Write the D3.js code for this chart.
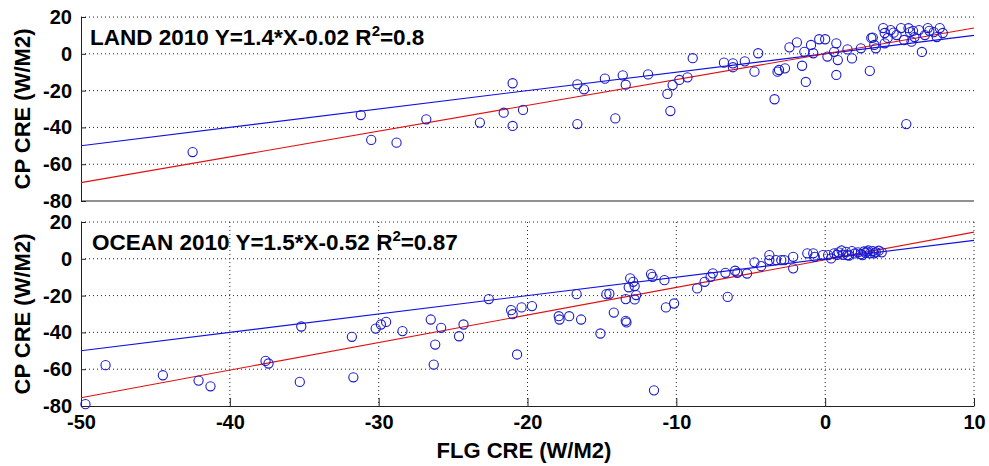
<!DOCTYPE html>
<html>
<head>
<meta charset="utf-8">
<script src="https://cdn.jsdelivr.net/npm/d3@7"></script>
<style>
  body { margin: 0; background: #fff; }
  text { font-family: "Liberation Sans", Arial, sans-serif; font-weight: bold; fill: #000; }
  .grid line { stroke: #222; stroke-dasharray: 1,3; }
  .axis path, .axis line { stroke: #222; }
  .axis text { font-size: 20px; }
</style>
</head>
<body>
<svg id="chart"></svg>
<script>
// tick values
const xTicks = [-50, -40, -30, -20, -10, 0, 10];
const yTicks = [20, 0, -20, -40, -60, -80];

// LAND 2010 points (FLG CRE, CP CRE)
const landX = [-42.5, -31.2, -30.5, -28.8, -26.8, -23.2, -21.0, -21.6, -21.0, -20.3,
  -16.65, -16.2, -16.65, -14.8, -13.6, -13.4, -14.1, -11.9, -10.6, -10.4,
  -10.25, -9.8, -9.25, -8.9, -6.8, -6.2, -6.2, -5.4, -4.75, -4.5,
  -3.4, -3.2, -3.1, -2.7, -2.4, -1.9, -1.55, -1.3, -1.4, -0.95,
  -0.8, -0.4, 0, 0.15, 0.75, 0.6, 0.75, 0.85, 1.5, 1.8,
  2.4, 3.0, 3.2, 3.3, 3.4, 3.1, 3.9, 4.0, 4.2, 4.0,
  4.4, 4.8, 5.1, 5.3, 5.7, 6.0, 6.3, 6.7, 6.9, 7.3,
  7.5, 7.7, 7.9, 6.5, 5.45, 5.6, 5.8, 7.0, 4.6, 5.9];
const landY = [-53.4, -33.3, -46.8, -48.3, -35.6, -37.4, -16.0, -32.0, -39.2, -30.5,
  -16.6, -19.3, -38.2, -13.5, -11.7, -16.8, -35.1, -11.2, -21.8, -31.1,
  -17, -14.2, -12.8, -2.4, -4.8, -5.2, -7.3, -4.1, -9.7, 0.3,
  -24.7, -9.7, -8.8, -7.9, 3.5, 6.2, -6.5, -15.3, 1.1, 4.8,
  0.3, 7.9, 7.9, -1.5, 5.7, 1.1, -11.5, -3.4, 2.4, -2.5,
  3, -9.3, 8.8, 4.8, 3, 8.6, 14, 11.3, 8.6, 5.7,
  12.9, 10.2, 14, 7.5, 11.8, 9.1, 12.9, 10.2, 14, 11.8,
  9.1, 14, 11.3, 1, -38.2, 13.9, 6.6, 12.5, 11.5, 12.5];

// OCEAN 2010 points
const oceanX = [-49.7, -48.35, -44.5, -42.1, -41.3, -37.6, -37.4, -35.2, -35.3, -31.8,
  -31.7, -30.2, -29.85, -29.5, -28.4, -26.5, -26.2, -26.3, -25.8, -24.6,
  -24.3, -22.6, -21.1, -21.0, -20.4, -20.7, -19.7, -17.9, -17.85, -17.2,
  -16.4, -16.7, -15.1, -14.7, -14.5, -14.2, -13.4, -13.35, -13.4, -13.2,
  -13.1, -12.9, -12.8, -12.8, -12.7, -11.7, -11.6, -11.5, -10.8, -10.7,
  -10.15, -8.6, -8.1, -7.7, -7.55, -6.55, -6.7, -6.05, -5.9, -5.25,
  -4.75, -4.3, -3.75, -3.75, -3.3, -2.95, -2.75, -2.15, -2.15, -1.2,
  -0.8, -0.7, -0.15, 0.2, 0.4, 0.6, 0.9, 1.1, 1.2, 1.4,
  1.6, 1.8, 2.0, 2.2, 2.4, 2.6, 2.7, 2.9, 3.0, 3.2,
  3.4, 3.6, 3.8, 1.5, 2.5, 0.8, 3.3, 2.8];
const oceanY = [-79, -57.8, -63.3, -66.2, -69.3, -55.5, -56.9, -36.8, -66.9, -42.4,
  -64.4, -37.9, -35.7, -34.3, -39.3, -33, -46.6, -57.5, -37.5, -42.1,
  -35.7, -21.9, -27.9, -30.1, -26.4, -52, -25.7, -31.2, -33, -31.2,
  -33, -19.2, -40.6, -19.2, -19.0, -29.2, -33.7, -34.6, -21.9, -15.5,
  -10.6, -12.5, -14.8, -22.1, -19.7, -8.3, -9.8, -71.5, -11.6, -26.4,
  -24.3, -16.1, -12.5, -9.8, -7.9, -20.7, -7.6, -6.5, -7.6, -8,
  -1.9, -4, 2, -0.7, -0.7, -0.7, -0.7, 1.1, -5.2, 3,
  3, 1.1, 2, 2, 0.2, 3, 3.5, 4.5, 2.2, 3.8,
  1.8, 4.2, 2.9, 3.5, 2.5, 4.0, 3.2, 4.5, 3.0, 4.2,
  3.6, 4.4, 3.5, 2.0, 2.0, 2.2, 3.0, 3.9];

// regression fits: [slope, intercept]
const landFit = [1.4, -0.02];
const oceanFit = [1.5, -0.52];

const width = 989, height = 466;
const left = 81, right = 974;

const svg = d3.select('#chart')
  .attr('width', width)
  .attr('height', height);

const x = d3.scaleLinear().domain([-50, 10]).range([left, right]);

// plain hyphen instead of d3's unicode minus
const fmt = d => String(d);

function drawPanel(cfg) {
  const y = d3.scaleLinear().domain([-80, 20]).range([cfg.bottom, cfg.top]);
  const g = svg.append('g');

  // horizontal dotted grid
  const grid = g.append('g').attr('class', 'grid');
  grid.selectAll('.hg')
    .data(yTicks.filter(d => d > -80))
    .join('line')
      .attr('x1', left).attr('x2', right)
      .attr('y1', d => y(d)).attr('y2', d => y(d));

  if (cfg.showX) {
    grid.selectAll('.vg')
      .data(xTicks.filter(d => d > -50))
      .join('line')
        .attr('x1', d => x(d)).attr('x2', d => x(d))
        .attr('y1', cfg.top).attr('y2', cfg.bottom);
  }

  // y axis
  g.append('g')
    .attr('class', 'axis')
    .attr('transform', `translate(${left},0)`)
    .call(d3.axisLeft(y).tickValues(yTicks).tickFormat(fmt)
      .tickSizeInner(-5).tickSizeOuter(0).tickPadding(9));

  // x axis
  if (cfg.showX) {
    g.append('g')
      .attr('class', 'axis')
      .attr('transform', `translate(0,${cfg.bottom})`)
      .call(d3.axisBottom(x).tickValues(xTicks).tickFormat(fmt)
        .tickSizeInner(-8).tickSizeOuter(0).tickPadding(9));
  } else {
    g.append('line')
      .attr('x1', left).attr('x2', right)
      .attr('y1', cfg.bottom).attr('y2', cfg.bottom)
      .attr('stroke', '#222');
  }

  // 1:1 line and fit line
  const xs = x.domain();
  g.append('line')
    .attr('x1', x(xs[0])).attr('y1', y(xs[0]))
    .attr('x2', x(xs[1])).attr('y2', y(xs[1]))
    .attr('stroke', '#1010e0').attr('stroke-width', 1.1);
  g.append('line')
    .attr('x1', x(xs[0])).attr('y1', y(cfg.fit[0] * xs[0] + cfg.fit[1]))
    .attr('x2', x(xs[1])).attr('y2', y(cfg.fit[0] * xs[1] + cfg.fit[1]))
    .attr('stroke', '#e01010').attr('stroke-width', 1.1);

  // points
  const pts = cfg.xs.map((v, i) => ({ x: v, y: cfg.ys[i] }));
  g.selectAll('circle')
    .data(pts)
    .join('circle')
      .attr('cx', d => x(d.x))
      .attr('cy', d => y(d.y))
      .attr('r', 4.6)
      .attr('fill', 'none')
      .attr('stroke', '#1a1ad0')
      .attr('stroke-width', 1.1);

  // title with R^2
  const t = g.append('text')
    .attr('x', cfg.titleX)
    .attr('y', cfg.top + 28)
    .style('font-size', '22.5px');
  t.append('tspan').text(cfg.label + ' R');
  t.append('tspan').attr('dy', -9).style('font-size', '15px').text('2');
  t.append('tspan').attr('dy', 9).text('=' + cfg.r2);

  // y label
  g.append('text')
    .attr('transform', `translate(30,${(cfg.top + cfg.bottom) / 2}) rotate(-90)`)
    .style('text-anchor', 'middle')
    .style('font-size', '22px')
    .text('CP CRE (W/M2)');
}

drawPanel({ top: 17, bottom: 201, xs: landX, ys: landY, fit: landFit,
  label: 'LAND 2010 Y=1.4*X-0.02', r2: '0.8', titleX: 90, showX: false });
drawPanel({ top: 222, bottom: 406, xs: oceanX, ys: oceanY, fit: oceanFit,
  label: 'OCEAN 2010 Y=1.5*X-0.52', r2: '0.87', titleX: 92, showX: true });

// x label
svg.append('text')
  .attr('x', 524)
  .attr('y', 458)
  .style('text-anchor', 'middle')
  .style('font-size', '22px')
  .text('FLG CRE (W/M2)');
</script>
</body>
</html>
